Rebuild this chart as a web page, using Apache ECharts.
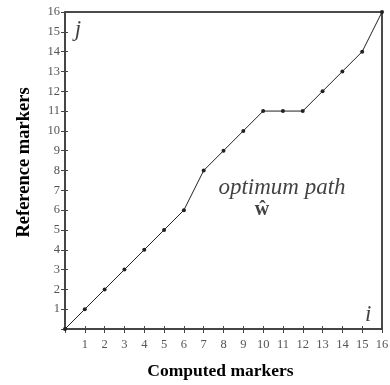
<!DOCTYPE html>
<html><head><meta charset="utf-8">
<script src="https://cdn.jsdelivr.net/npm/echarts@6/dist/echarts.min.js"></script>
<style>html,body{margin:0;padding:0;background:#fff}#c{width:390px;height:385px}</style>
</head><body><div id="c"></div>
<script>
const computedMarkers = [0,1,2,3,4,5,6,7,8,9,10,11,12,13,14,15,16];
const referenceMarkers = [0,1,2,3,4,5,6,8,9,10,11,11,11,12,13,14,16];
const tickValues = [1,2,3,4,5,6,7,8,9,10,11,12,13,14,15,16];
const xTitle = 'Computed markers';
const yTitle = 'Reference markers';
const annotations = [
  {coord:[10.95,7.12], text:'optimum path', style:'italic', weight:'normal', size:23},
  {coord:[9.94,6.0], text:'ŵ', style:'normal', weight:'bold', size:20},
  {coord:[0.65,15.1], text:'j', style:'italic', weight:'normal', size:23},
  {coord:[15.3,0.7], text:'i', style:'italic', weight:'normal', size:23}
];
const serif = '"Liberation Serif","DejaVu Serif",serif';
const chart = echarts.init(document.getElementById('c'));
const axisCommon = {
  type:'value', min:0, max:16, interval:1,
  splitLine:{show:false}
};
chart.setOption({
  animation:false,
  grid:{left:65,right:8,top:12,bottom:56,show:true,borderColor:'#111',borderWidth:1.5,
    outerBoundsMode:'none',containLabel:false},
  xAxis:[
    Object.assign({}, axisCommon, {
      position:'bottom',
      name:xTitle, nameLocation:'middle', nameGap:33,
      nameTextStyle:{fontFamily:serif,fontWeight:'bold',fontSize:17.5,color:'#000',padding:[0,6,0,0]},
      axisLine:{show:true,onZero:false,lineStyle:{color:'#444',width:1.5}},
      axisTick:{show:true,length:4,lineStyle:{color:'#444',width:1}},
      axisLabel:{fontFamily:serif,fontSize:12.5,color:'#555',margin:9,
        formatter:v=>tickValues.includes(v)?String(v):''}
    }),
    Object.assign({}, axisCommon, {
      position:'bottom',
      axisLine:{show:false},
      axisTick:{show:true,inside:true,length:3,lineStyle:{color:'#444',width:1}},
      axisLabel:{show:false}
    })
  ],
  yAxis:[
    Object.assign({}, axisCommon, {
      position:'left',
      name:yTitle, nameLocation:'middle', nameGap:31, nameRotate:90,
      nameTextStyle:{fontFamily:serif,fontWeight:'bold',fontSize:18.5,color:'#000',padding:[0,0,0,16]},
      axisLine:{show:true,onZero:false,lineStyle:{color:'#444',width:1.5}},
      axisTick:{show:true,length:4,lineStyle:{color:'#444',width:1}},
      axisLabel:{fontFamily:serif,fontSize:12.5,color:'#555',margin:5,
        formatter:v=>tickValues.includes(v)?String(v):''}
    }),
    Object.assign({}, axisCommon, {
      position:'left',
      axisLine:{show:false},
      axisTick:{show:true,inside:true,length:3,lineStyle:{color:'#444',width:1}},
      axisLabel:{show:false}
    })
  ],
  series:[
    {
      type:'line',
      data:computedMarkers.map((x,i)=>[x,referenceMarkers[i]]),
      symbol:'circle', symbolSize:4, showSymbol:true,
      itemStyle:{color:'#222'},
      lineStyle:{color:'#222',width:1},
      z:5
    },
    {
      type:'scatter',
      symbolSize:0,
      data:annotations.map(a=>({value:a.coord,
        label:{show:true,position:'inside',formatter:a.text,fontFamily:serif,
          fontStyle:a.style,fontWeight:a.weight,fontSize:a.size,color:'#111'}})),
      silent:true, z:6
    }
  ]
});
</script></body></html>
